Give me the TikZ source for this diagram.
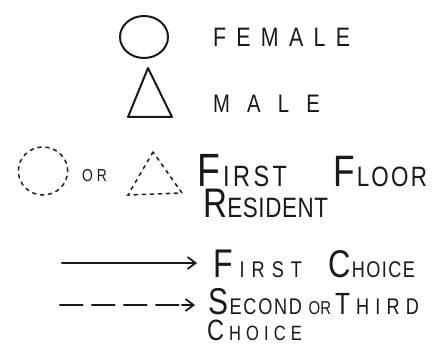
\documentclass[tikz,border=0pt]{standalone}
\usepackage{fontspec}
\setmainfont{Liberation Sans}[FakeStretch=0.8]
\usetikzlibrary{arrows.meta,shapes.geometric,calc}
\newcommand\fsz[2]{{\fontsize{#1}{#1}\selectfont #2}}
\begin{document}
\begin{tikzpicture}[x=0.75pt,y=-0.75pt,
  ink/.style={draw=black!90, line width=1.5pt, line cap=round, line join=round},
  dotline/.style={draw=black!85, line width=1.2pt, line cap=round, dash pattern=on 2.5pt off 3.5pt},
  lbl/.style={anchor=base west, inner sep=0pt, outer sep=0pt, text=black!90},
  tip/.style={-{Straight Barb[length=6pt,width=9pt,line width=1.3pt]}}]
\path[use as bounding box] (0,0) rectangle (443,349);
% symbols
\node[ink, ellipse, minimum width=36pt, minimum height=31.5pt, inner sep=0pt] (femsym) at (144,37) {};
\draw[ink] (148,68) -- (128,117) -- (172,117) -- cycle;
\node[dotline, ellipse, minimum width=37pt, minimum height=36pt, inner sep=0pt] (dcirc) at (43,171) {};
\draw[dotline] (153,152) -- (128,195) -- (182,193) -- cycle;
% labels
\node[lbl] (female) at (213,47) {\makebox[102.75pt][s]{\fsz{20}{F\hfil E\hfil M\hfil A\hfil L\hfil E}}};
\node[lbl] (male) at (213,113) {\makebox[80.25pt][s]{\fsz{19}{M\hfil A\hfil L\hfil E}}};
\node[lbl] (or) at (82,182) {\makebox[18.75pt][s]{\fsz{13}{O\hfil R}}};
\node[lbl] (ffloor) at (197,187) {\makebox[67.5pt][s]{\fsz{35}{F}\hfil\fsz{22}{I\hfil R\hfil S\hfil T}}\hspace{34.5pt}\makebox[70.5pt][s]{\fsz{33}{F}\hfil\fsz{21}{L\hfil O\hfil O\hfil R}}};
\node[lbl] (resident) at (203,218) {\makebox[93.75pt][s]{\fsz{31}{R}\hfil\fsz{21}{E\hfil S\hfil I\hfil D\hfil E\hfil N\hfil T}}};
\node[lbl] (first) at (213,277) {\makebox[66.75pt][s]{\fsz{30}{F}\hfil\fsz{17}{I\hfil R\hfil S\hfil T}}\hspace{19.5pt}\makebox[65.25pt][s]{\fsz{29}{C}\hfil\fsz{17}{H\hfil O\hfil I\hfil C\hfil E}}};
\node[lbl] (second) at (208,315) {\makebox[70.5pt][s]{\fsz{28}{S}\hfil\fsz{17}{E\hfil C\hfil O\hfil N\hfil D}}\hspace{5pt}\fsz{14}{OR}\hspace{3pt}\makebox[63pt][s]{\fsz{23}{T}\hfil\fsz{17}{H\hfil I\hfil R\hfil D}}};
\node[lbl] (choice) at (207,340) {\makebox[71.25pt][s]{\fsz{22}{C}\hfil\fsz{15.5}{H\hfil O\hfil I\hfil C\hfil E}}};
% arrows
\coordinate (s1) at (62,263);
\coordinate (e1) at (197,263);
\coordinate (s2) at (60,305);
\coordinate (e2) at (195,305);
\coordinate (d2) at (187,305);
\coordinate (t2) at (182,305);
\draw[ink, tip] (s1) -- (e1);
\draw[ink, dash pattern=on 17pt off 7pt] (s2) -- (d2);
\draw[ink, tip] (t2) -- (e2);
\end{tikzpicture}
\end{document}
